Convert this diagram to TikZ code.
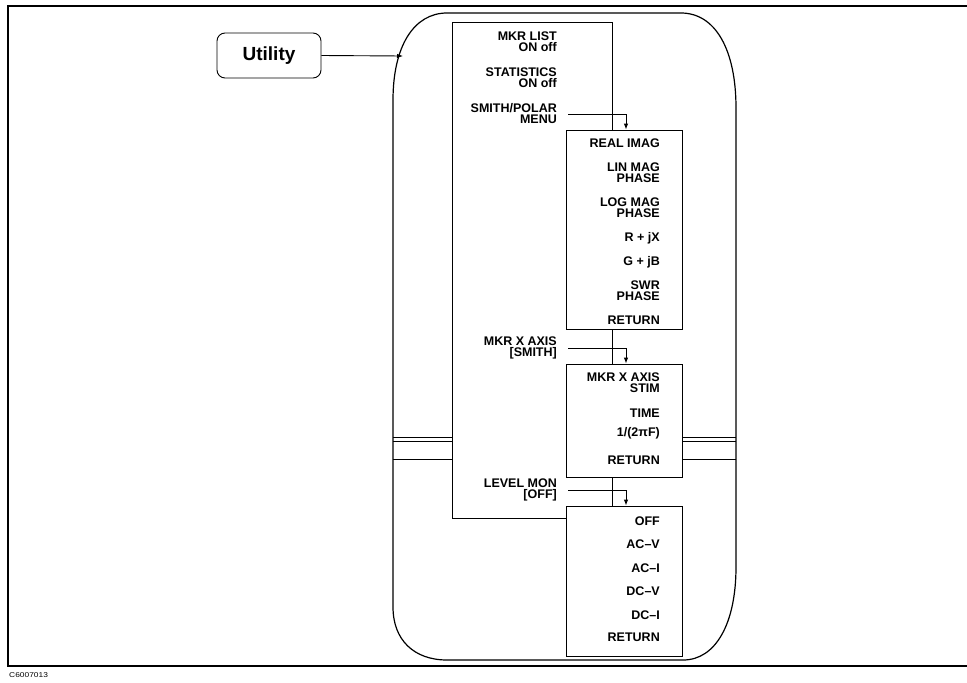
\documentclass[tikz,border=0pt]{standalone}
\usepackage{fontspec}
\setmainfont{Liberation Sans}
\usetikzlibrary{arrows.meta}
\begin{document}
\begin{tikzpicture}[x=1pt,y=-1pt,
  mlab/.style={anchor=east,align=right,inner sep=0pt,font=\bfseries\fontsize{12.5}{11}\selectfont},
  menubox/.style={draw,line width=0.9pt,fill=white,inner sep=0pt},
  arr/.style={line width=0.9pt,-{Latex[length=6pt,width=4.5pt]}},
  brk/.style={line width=0.8pt}]
\useasboundingbox (0,0) rectangle (967,683);
% frame
\draw[line width=2.6pt] (967,6) -- (8,6) -- (8,666) -- (967,666);
\node[anchor=west,inner sep=0pt] (code) at (9,675) {\scalebox{1.2}[1]{\fontsize{7}{8}\selectfont C6007013}};
% outer rounded outline
\draw[line width=1.2pt] (393,100) .. controls (393,46) and (414,13) .. (447,13)
  -- (681,13) .. controls (715,13) and (736,49) .. (736,108)
  -- (736,567) .. controls (736,623) and (716,660) .. (683,660)
  -- (447,660) .. controls (414,660) and (393,640) .. (393,607) -- cycle;
% Utility key
\node[draw,line width=0.9pt,rounded corners=8pt,minimum width=104pt,minimum height=45pt,inner sep=0pt,
      font=\bfseries\fontsize{19}{22}\selectfont] (util) at (269,55.5) {Utility};
\coordinate (uin) at (403,56);
\draw[arr] (util.east) -- (uin);
% main menu
\node[menubox,minimum width=160pt,minimum height=496pt] (main) at (532,270) {};
% break marks
\draw[brk] (393,437) -- (452,437);
\draw[brk] (393,441) -- (452,441);
\draw[brk] (393,459) -- (452,459);
\draw[brk] (682,437) -- (736,437);
\draw[brk] (682,441) -- (736,441);
\draw[brk] (682,459) -- (736,459);
% sub menus
\node[menubox,minimum width=116pt,minimum height=199pt] (sub1) at (624,229.5) {};
\node[menubox,minimum width=116pt,minimum height=113pt] (sub2) at (624,420.5) {};
\node[menubox,minimum width=116pt,minimum height=150pt] (sub3) at (624,581) {};
% main menu labels
\node[mlab] (mkrlist) at (557,42) {MKR LIST\\ON off};
\node[mlab] (stat) at (557,78) {STATISTICS\\ON off};
\node[mlab] (smith) at (557,114) {SMITH/POLAR\\MENU};
\node[mlab] (mkrx) at (557,348) {MKR X AXIS\\{[SMITH]}};
\node[mlab] (lvl) at (557,490) {LEVEL MON\\{[OFF]}};
% sub menu 1 labels
\node[mlab] (s1a) at (660,143) {REAL IMAG};
\node[mlab] (s1b) at (660,173) {LIN MAG\\PHASE};
\node[mlab] (s1c) at (660,208) {LOG MAG\\PHASE};
\node[mlab] (s1d) at (660,238) {R + jX};
\node[mlab] (s1e) at (660,262) {G + jB};
\node[mlab] (s1f) at (660,291) {SWR\\PHASE};
\node[mlab] (s1g) at (660,320) {RETURN};
% sub menu 2 labels
\node[mlab] (s2a) at (660,383) {MKR X AXIS\\STIM};
\node[mlab] (s2b) at (660,413) {TIME};
\node[mlab] (s2c) at (660,433) {1/(2πF)};
\node[mlab] (s2d) at (660,460) {RETURN};
% sub menu 3 labels
\node[mlab] (s3a) at (660,521) {OFF};
\node[mlab] (s3b) at (660,544) {AC–V};
\node[mlab] (s3c) at (660,568) {AC–I};
\node[mlab] (s3d) at (660,591) {DC–V};
\node[mlab] (s3e) at (660,615) {DC–I};
\node[mlab] (s3f) at (660,637) {RETURN};
% connectors
\draw[arr] ([xshift=11pt]smith.east) -| ([xshift=2pt]sub1.north);
\draw[arr] ([xshift=11pt]mkrx.east) -| ([xshift=2pt]sub2.north);
\draw[arr] ([xshift=11pt]lvl.east) -| ([xshift=2pt]sub3.north);
\end{tikzpicture}
\end{document}
